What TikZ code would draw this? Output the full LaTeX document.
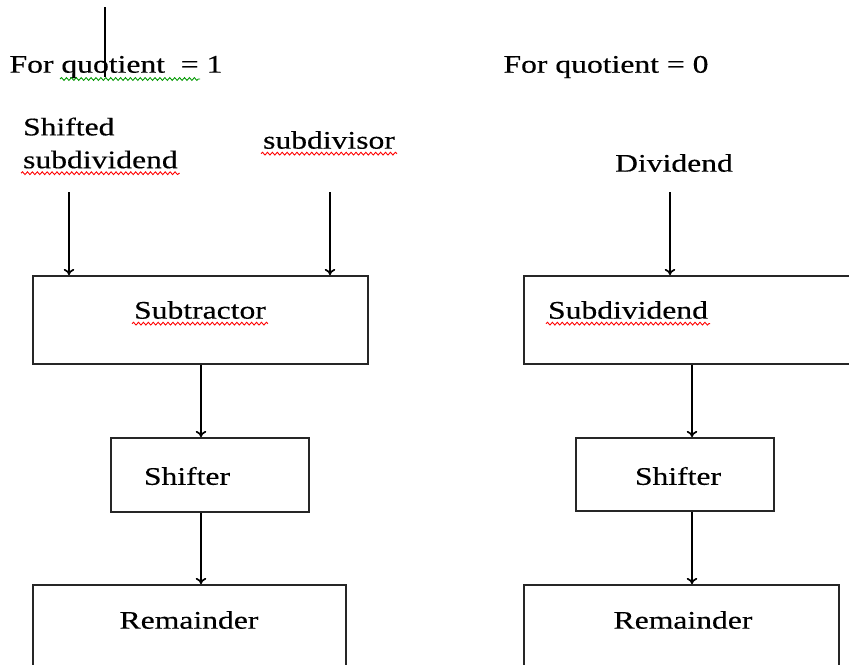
\documentclass[tikz,border=0pt]{standalone}
\usepackage{fontspec}
\setmainfont{Liberation Serif}[FakeStretch=1.25, FakeBold=0.4]
\usepackage{tikz}
\usetikzlibrary{arrows.meta,decorations.pathmorphing,positioning,calc}

\begin{document}
\begin{tikzpicture}[x=0.02cm, y=-0.02cm,
      block/.style = {shape=rectangle, draw=black!85, line width=1.1pt,
        inner sep=0pt},
      lbl/.style = {inner sep=1pt, align=left,
        font=\fontsize{14.4}{18.7}\selectfont},
      post/.style = {->, >={To[length=3.5pt, width=6pt]}, line width=0.95pt},
      squig/.style = {line width=0.5pt, decorate,
        decoration={snake, amplitude=0.8pt, segment length=2.8pt}}]

      \clip (0,0) rectangle (849,664);
      \fill[white] (0,0) rectangle (849,664);

      % headings
      \node [lbl] (q1) at (116,67) {For quotient~~= 1};
      \node [lbl] (q0) at (606,67) {For quotient = 0};
      \coordinate (mark1) at (105,7);
      \coordinate (mark2) at (105,77);
      \draw [line width=1pt] (mark1) -- (mark2);

      % inputs
      \node [lbl, anchor=west] (sdd) at (21,143) {Shifted\\subdividend};
      \node [lbl] (sdr) at (329,140) {subdivisor};
      \node [lbl] (dvd) at (674,163) {Dividend};

      % quotient = 1
      \node [block, minimum width=6.7cm, minimum height=1.76cm] (sub) at (200.5,320) {};
      \node [lbl] (subT) at (200,310) {Subtractor};
      \node [block, minimum width=3.96cm, minimum height=1.48cm] (shl) at (210,475) {};
      \node [lbl] (shlT) at (187,476) {Shifter};
      \node [block, minimum width=6.26cm, minimum height=2.4cm] (reml) at (189.5,645) {};
      \node [lbl] (remlT) at (189,620) {Remainder};

      % quotient = 0
      \node [block, minimum width=7.12cm, minimum height=1.76cm] (sdv) at (702,320) {};
      \node [lbl] (sdvT) at (628,310) {Subdividend};
      \node [block, minimum width=3.96cm, minimum height=1.46cm] (shr) at (675,474.5) {};
      \node [lbl] (shrT) at (678,476) {Shifter};
      \node [block, minimum width=6.3cm, minimum height=2.4cm] (remr) at (681.5,645) {};
      \node [lbl] (remrT) at (683,620) {Remainder};

      \coordinate (in1) at (69,192);
      \coordinate (in2) at (330,192);
      \coordinate (in3) at (670,192);
      \coordinate (cl) at (201,0);
      \coordinate (cr) at (692,0);

      \draw [post] (in1) -- (in1 |- sub.north);
      \draw [post] (in2) -- (in2 |- sub.north);
      \draw [post] (in3) -- (in3 |- sdv.north);
      \draw [post] (sub.south -| cl) -- (shl.north -| cl);
      \draw [post] (shl.south -| cl) -- (reml.north -| cl);
      \draw [post] (sdv.south -| cr) -- (shr.north -| cr);
      \draw [post] (shr.south -| cr) -- (remr.north -| cr);

      % spell check marks
      \coordinate (qa) at (60,79);
      \coordinate (qb) at (200,79);
      \draw [squig, green!60!black] (qa) -- (qb);
      \draw [squig, red] ([yshift=-1.5pt]sdd.south west) -- ([yshift=-1.5pt]sdd.south east);
      \draw [squig, red] ([yshift=-1.5pt]sdr.south west) -- ([yshift=-1.5pt]sdr.south east);
      \draw [squig, red] ([yshift=-1.5pt]subT.south west) -- ([yshift=-1.5pt]subT.south east);
      \draw [squig, red] ([yshift=-1.5pt]sdvT.south west) -- ([yshift=-1.5pt]sdvT.south east);
    \end{tikzpicture}
\end{document}
